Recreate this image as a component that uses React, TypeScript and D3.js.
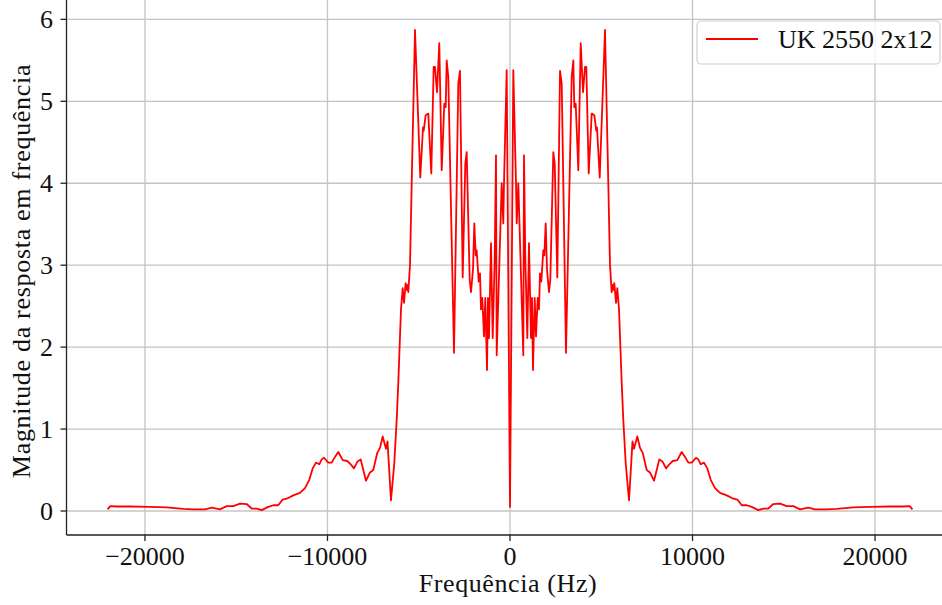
import React from "react";
import * as d3 from "d3";

const seriesName = "UK 2550 2x12";
const xLabel = "Frequência (Hz)";
const yLabel = "Magnitude da resposta em frequência";
const xTicks = [-20000, -10000, 0, 10000, 20000];
const yTicks = [0, 1, 2, 3, 4, 5, 6];

const freqHz = [
  -22050, -21900, -21551, -20822, -19726, -18811, -17901, -17353, -16712, -16345,
  -15890, -15523, -15162, -14795, -14427, -14153, -13879, -13605, -13244, -12970,
  -12696, -12455, -12236, -11874, -11507, -11233, -10997, -10811, -10630, -10449,
  -10318, -10192, -9956, -9770, -9589, -9408, -9167, -8915, -8729, -8548,
  -8367, -8181, -8038, -7890, -7671, -7490, -7271, -7123, -6975, -6795,
  -6712, -6521, -6340, -6208, -6121, -5973, -5879, -5808, -5715, -5660,
  -5605, -5573, -5479, -5386, -5205, -4915, -4767, -4729, -4619, -4477,
  -4312, -4181, -4110, -4000, -3874, -3742, -3600, -3523, -3469, -3381,
  -3068, -2833, -2740, -2592, -2449, -2373, -2208, -2137, -2027, -1956,
  -1879, -1825, -1715, -1644, -1589, -1518, -1425, -1353, -1260, -1205,
  -1151, -1041, -948, -840, -767, -729, -455, -367, -329, -181,
  0,
  181, 329, 367, 455, 729, 767, 840, 948, 1041, 1151,
  1205, 1260, 1353, 1425, 1518, 1589, 1644, 1715, 1825, 1879,
  1956, 2027, 2137, 2208, 2373, 2449, 2592, 2740, 2833, 3068,
  3381, 3469, 3523, 3600, 3742, 3874, 4000, 4110, 4181, 4312,
  4477, 4619, 4729, 4767, 4915, 5205, 5386, 5479, 5573, 5605,
  5660, 5715, 5808, 5879, 5973, 6121, 6208, 6340, 6521, 6712,
  6795, 6975, 7123, 7271, 7490, 7671, 7890, 8038, 8181, 8367,
  8548, 8729, 8915, 9167, 9408, 9589, 9770, 9956, 10192, 10318,
  10449, 10630, 10811, 10997, 11233, 11507, 11874, 12236, 12455, 12696,
  12970, 13244, 13605, 13879, 14153, 14427, 14795, 15162, 15523, 15890,
  16345, 16712, 17353, 17901, 18811, 19726, 20822, 21551, 21900, 22050,
];

const magnitude = [
  0.02, 0.06, 0.055, 0.055, 0.05, 0.045, 0.025, 0.02, 0.02, 0.04,
  0.02, 0.06, 0.06, 0.09, 0.085, 0.03, 0.03, 0.01, 0.05, 0.07,
  0.07, 0.14, 0.15, 0.19, 0.22, 0.28, 0.38, 0.52, 0.59, 0.57,
  0.63, 0.65, 0.59, 0.59, 0.66, 0.72, 0.62, 0.61, 0.57, 0.52,
  0.6, 0.63, 0.5, 0.37, 0.47, 0.5, 0.71, 0.77, 0.91, 0.76,
  0.85, 0.13, 0.58, 1.11, 1.56, 2.46, 2.72, 2.54, 2.78, 2.7,
  2.76, 2.67, 3.0, 4.0, 5.87, 4.07, 4.68, 4.64, 4.83, 4.85,
  4.12, 5.42, 5.42, 5.11, 5.71, 4.16, 4.97, 4.93, 5.5, 5.3,
  1.93, 5.22, 5.37, 2.85, 4.24, 4.38, 2.82, 2.67, 2.95, 3.51,
  3.12, 3.18, 2.8, 2.9, 2.46, 2.6, 2.13, 2.6, 1.72, 2.6,
  2.11, 3.27, 2.11, 3.06, 4.34, 1.9, 4.0, 3.51, 4.0, 5.38,
  0.05,
  5.38, 4.0, 3.51, 4.0, 1.9, 4.34, 3.06, 2.11, 3.27, 2.11,
  2.6, 1.72, 2.6, 2.13, 2.6, 2.46, 2.9, 2.8, 3.18, 3.12,
  3.51, 2.95, 2.67, 2.82, 4.38, 4.24, 2.85, 5.37, 5.22, 1.93,
  5.3, 5.5, 4.93, 4.97, 4.16, 5.71, 5.11, 5.42, 5.42, 4.12,
  4.85, 4.83, 4.64, 4.68, 4.07, 5.87, 4.0, 3.0, 2.67, 2.76,
  2.7, 2.78, 2.54, 2.72, 2.46, 1.56, 1.11, 0.58, 0.13, 0.85,
  0.76, 0.91, 0.77, 0.71, 0.5, 0.47, 0.37, 0.5, 0.63, 0.6,
  0.52, 0.57, 0.61, 0.62, 0.72, 0.66, 0.59, 0.59, 0.65, 0.63,
  0.57, 0.59, 0.52, 0.38, 0.28, 0.22, 0.19, 0.15, 0.14, 0.07,
  0.07, 0.05, 0.01, 0.03, 0.03, 0.085, 0.09, 0.06, 0.06, 0.02,
  0.04, 0.02, 0.02, 0.025, 0.045, 0.05, 0.055, 0.055, 0.06, 0.02,
];

const W = 942;
const H = 605;
const FONT = "'Liberation Serif', 'Times New Roman', serif";

const fmt = (v: number) => (v < 0 ? "\u2212" + Math.abs(v) : String(v));

export default function App() {
  const x = d3.scaleLinear().domain([-24255, 24255]).range([67.3, 952.7]);
  const y = d3.scaleLinear().domain([-0.293, 6.163]).range([535, 6]);
  const pts: [number, number][] = freqHz.map((f, i) => [f, magnitude[i]]);
  const line = d3
    .line<[number, number]>()
    .x((d) => x(d[0]))
    .y((d) => y(d[1]));
  const left = 66.5;
  const bottom = 535;
  const gridColor = "#c4c4c4";
  return (
    <svg
      width={W}
      height={H}
      style={{ position: "absolute", left: 0, top: 0, background: "#fff" }}
      fontFamily={FONT}
    >
      <rect x={0} y={0} width={W} height={H} fill="#fff" />
      <defs>
        <clipPath id="plot">
          <rect x={left} y={0} width={W - left} height={bottom} />
        </clipPath>
      </defs>
      <g clipPath="url(#plot)">
        {xTicks.map((t) => (
          <line key={"gx" + t} x1={x(t)} x2={x(t)} y1={0} y2={bottom} stroke={gridColor} strokeWidth={1.3} />
        ))}
        {yTicks.map((t) => (
          <line key={"gy" + t} x1={left} x2={W} y1={y(t)} y2={y(t)} stroke={gridColor} strokeWidth={1.3} />
        ))}
        <path d={line(pts) || ""} fill="none" stroke="#ff0000" strokeWidth={1.8} strokeLinejoin="round" />
      </g>
      <line x1={left} x2={left} y1={0} y2={bottom} stroke="#222" strokeWidth={1.3} />
      <line x1={left} x2={W} y1={bottom} y2={bottom} stroke="#222" strokeWidth={1.3} />
      {xTicks.map((t) => (
        <g key={"xt" + t}>
          <line x1={x(t)} x2={x(t)} y1={bottom} y2={bottom + 6} stroke="#222" strokeWidth={1.3} />
          <text x={x(t)} y={565} textAnchor="middle" fontSize={26} fill="#111">
            {fmt(t)}
          </text>
        </g>
      ))}
      {yTicks.map((t) => (
        <g key={"yt" + t}>
          <line x1={left - 6} x2={left} y1={y(t)} y2={y(t)} stroke="#222" strokeWidth={1.3} />
          <text x={53} y={y(t)} dy="0.33em" textAnchor="end" fontSize={26} fill="#111">
            {fmt(t)}
          </text>
        </g>
      ))}
      <text x={508} y={592} textAnchor="middle" fontSize={26} letterSpacing={0.6} fill="#111">
        {xLabel}
      </text>
      <text
        transform={`translate(30, 271) rotate(-90)`}
        textAnchor="middle"
        fontSize={26}
        letterSpacing={0.7}
        fill="#111"
      >
        {yLabel}
      </text>
      <rect x={697} y={21} width={243} height={43} rx={4} fill="#fff" fillOpacity={0.8} stroke="#d0d0d0" strokeWidth={1.2} />
      <line x1={706} x2={758} y1={39} y2={39} stroke="#ff0000" strokeWidth={1.8} />
      <text x={778} y={48} fontSize={26} fill="#111">
        {seriesName}
      </text>
    </svg>
  );
}
